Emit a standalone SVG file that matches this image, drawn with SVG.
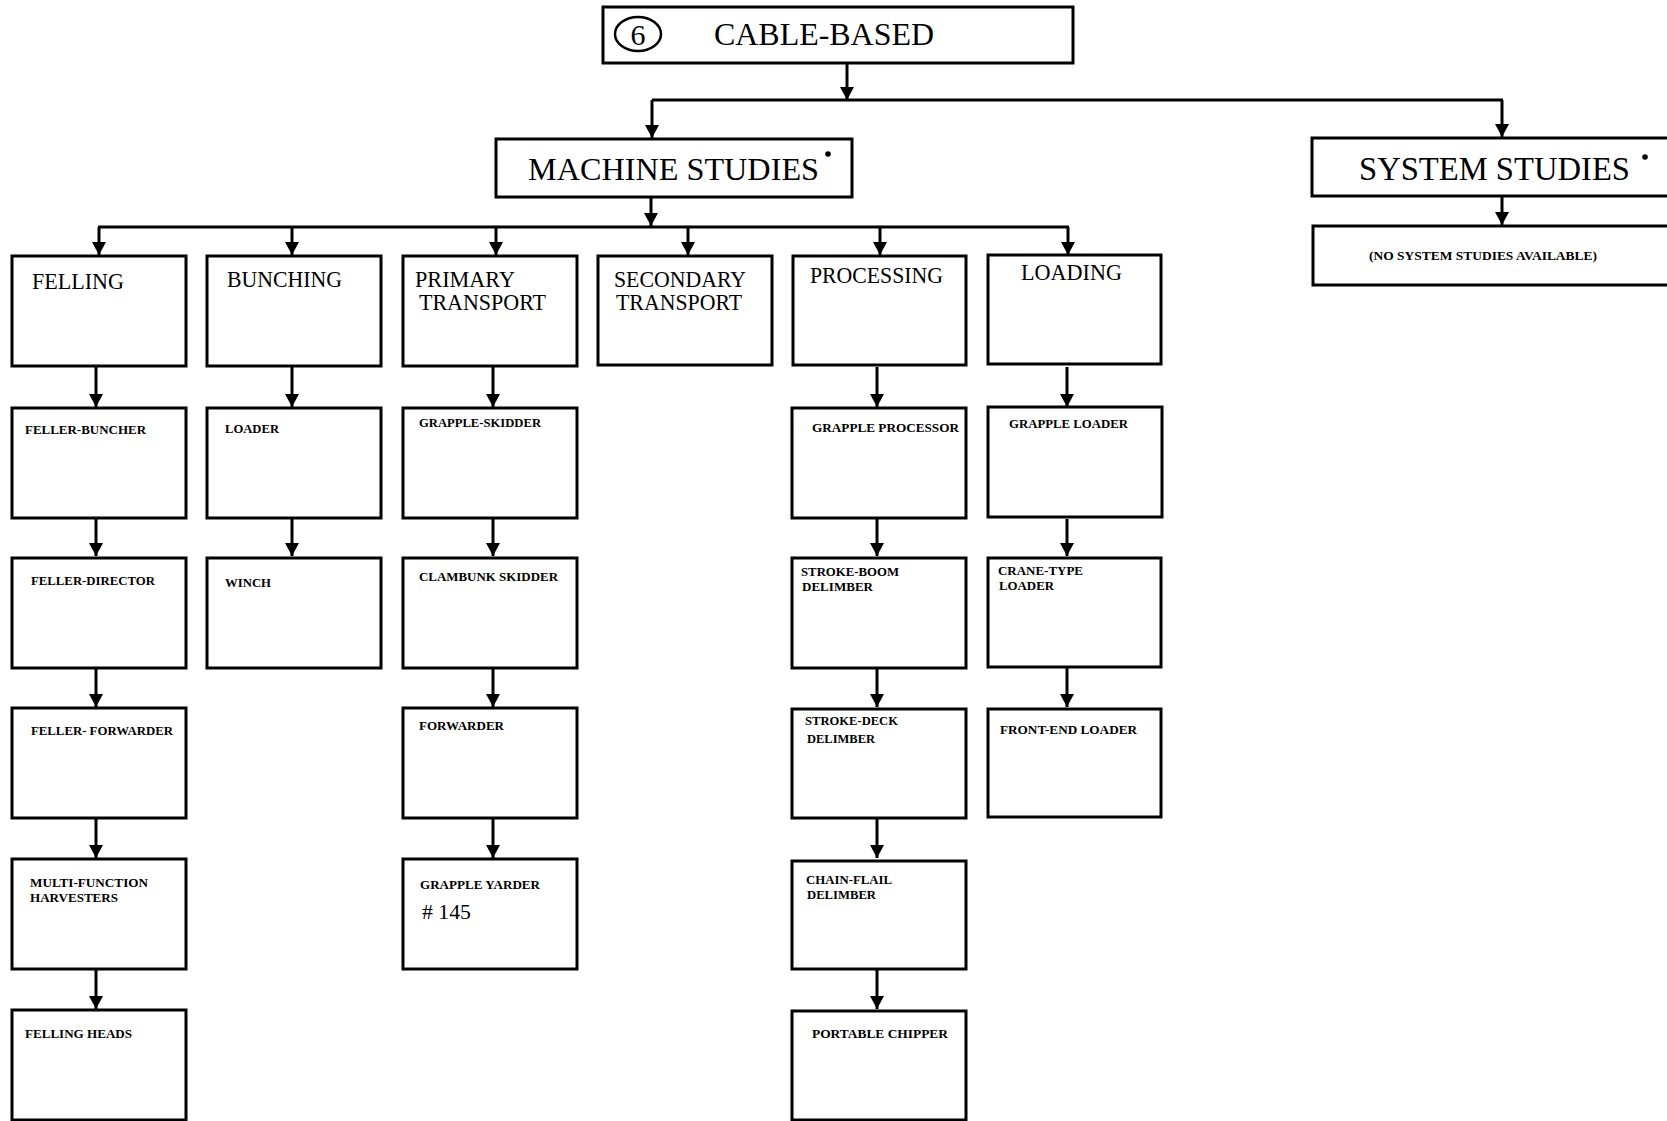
<svg xmlns="http://www.w3.org/2000/svg" width="1667" height="1121" viewBox="0 0 1667 1121">
  <style>
    .box { fill: #ffffff; stroke: #000000; stroke-width: 3; }
    .wire { fill: none; stroke: #000000; stroke-width: 3; }
    .arrow { fill: none; stroke: #000000; stroke-width: 3; marker-end: url(#head); }
    .big { font-family: "Liberation Serif", "Times New Roman", serif; fill: #000000; }
    .cat { font-family: "Liberation Serif", "Times New Roman", serif; font-size: 23px; fill: #000000; }
    .item { font-family: "Liberation Serif", "Times New Roman", serif; font-size: 13px; font-weight: bold; fill: #000000; }
  </style>
  <defs>
    <marker id="head" viewBox="0 -7 14 14" refX="13" refY="0" markerWidth="14" markerHeight="14" markerUnits="userSpaceOnUse" orient="auto">
      <path d="M0,-7 L13,0 L0,7 z" fill="#000000"/>
    </marker>
  </defs>
  <rect x="0" y="0" width="1667" height="1121" fill="#ffffff"/>

  <!-- connectors -->
  <g id="connectors">
    <line class="arrow" x1="847" y1="63" x2="847" y2="100"/>
    <line class="wire" x1="652" y1="100" x2="1503" y2="100"/>
    <line class="arrow" x1="652" y1="100" x2="652" y2="138"/>
    <line class="arrow" x1="1502" y1="100" x2="1502" y2="137"/>
    <line class="arrow" x1="1502" y1="196" x2="1502" y2="225"/>
    <line class="arrow" x1="651" y1="197" x2="651" y2="226"/>
    <line class="wire" x1="98" y1="227" x2="1069" y2="227"/>
    <line class="arrow" x1="99" y1="227" x2="99" y2="255"/>
    <line class="arrow" x1="292" y1="227" x2="292" y2="255"/>
    <line class="arrow" x1="496" y1="227" x2="496" y2="255"/>
    <line class="arrow" x1="688" y1="227" x2="688" y2="255"/>
    <line class="arrow" x1="880" y1="227" x2="880" y2="255"/>
    <line class="arrow" x1="1068" y1="227" x2="1068" y2="255"/>
    <!-- felling chain -->
    <line class="arrow" x1="96" y1="367" x2="96" y2="407"/>
    <line class="arrow" x1="96" y1="519" x2="96" y2="556"/>
    <line class="arrow" x1="96" y1="668" x2="96" y2="707"/>
    <line class="arrow" x1="96" y1="819" x2="96" y2="858"/>
    <line class="arrow" x1="96" y1="970" x2="96" y2="1009"/>
    <!-- bunching chain -->
    <line class="arrow" x1="292" y1="367" x2="292" y2="407"/>
    <line class="arrow" x1="292" y1="519" x2="292" y2="556"/>
    <!-- primary transport chain -->
    <line class="arrow" x1="493" y1="367" x2="493" y2="407"/>
    <line class="arrow" x1="493" y1="519" x2="493" y2="556"/>
    <line class="arrow" x1="493" y1="668" x2="493" y2="707"/>
    <line class="arrow" x1="493" y1="819" x2="493" y2="858"/>
    <!-- processing chain -->
    <line class="arrow" x1="877" y1="367" x2="877" y2="407"/>
    <line class="arrow" x1="877" y1="519" x2="877" y2="556"/>
    <line class="arrow" x1="877" y1="668" x2="877" y2="707"/>
    <line class="arrow" x1="877" y1="819" x2="877" y2="858"/>
    <line class="arrow" x1="877" y1="970" x2="877" y2="1009"/>
    <!-- loading chain -->
    <line class="arrow" x1="1067" y1="367" x2="1067" y2="407"/>
    <line class="arrow" x1="1067" y1="519" x2="1067" y2="556"/>
    <line class="arrow" x1="1067" y1="668" x2="1067" y2="707"/>
  </g>

  <!-- header -->
  <g id="cable-based">
    <rect class="box" x="603" y="7" width="470" height="56" stroke-width="2.5"/>
    <ellipse cx="638" cy="34" rx="23" ry="17" fill="none" stroke="#000000" stroke-width="2.5"/>
    <text class="big" x="638" y="45" font-size="30" text-anchor="middle">6</text>
    <text class="big" x="714" y="45" font-size="31" textLength="220" lengthAdjust="spacingAndGlyphs">CABLE-BASED</text>
  </g>

  <g id="machine-studies">
    <rect class="box" x="496" y="139" width="356" height="58"/>
    <text class="big" x="528" y="180" font-size="32" textLength="291" lengthAdjust="spacingAndGlyphs">MACHINE STUDIES</text>
    <circle cx="828" cy="154" r="2.8" fill="#000000"/>
  </g>

  <g id="system-studies">
    <rect class="box" x="1312" y="138" width="360" height="58"/>
    <text class="big" x="1359" y="180" font-size="33" textLength="271" lengthAdjust="spacingAndGlyphs">SYSTEM STUDIES</text>
    <circle cx="1645" cy="157" r="2.8" fill="#000000"/>
  </g>

  <g id="no-system-studies">
    <rect class="box" x="1313" y="226" width="360" height="59"/>
    <text class="item" x="1369" y="260" font-size="12" textLength="228" lengthAdjust="spacingAndGlyphs">(NO SYSTEM STUDIES AVAILABLE)</text>
  </g>

  <!-- category row -->
  <g id="felling">
    <rect class="box" x="12" y="256" width="174" height="110"/>
    <text class="cat" x="32" y="289" textLength="92" lengthAdjust="spacingAndGlyphs">FELLING</text>
  </g>
  <g id="bunching">
    <rect class="box" x="207" y="256" width="174" height="110"/>
    <text class="cat" x="227" y="287" textLength="115" lengthAdjust="spacingAndGlyphs">BUNCHING</text>
  </g>
  <g id="primary-transport">
    <rect class="box" x="403" y="256" width="174" height="110"/>
    <text class="cat" x="415" y="287" textLength="100" lengthAdjust="spacingAndGlyphs">PRIMARY</text>
    <text class="cat" x="419" y="310" textLength="127" lengthAdjust="spacingAndGlyphs">TRANSPORT</text>
  </g>
  <g id="secondary-transport">
    <rect class="box" x="598" y="256" width="174" height="109"/>
    <text class="cat" x="614" y="287" textLength="132" lengthAdjust="spacingAndGlyphs">SECONDARY</text>
    <text class="cat" x="616" y="310" textLength="126" lengthAdjust="spacingAndGlyphs">TRANSPORT</text>
  </g>
  <g id="processing">
    <rect class="box" x="793" y="256" width="173" height="109"/>
    <text class="cat" x="810" y="283" textLength="133" lengthAdjust="spacingAndGlyphs">PROCESSING</text>
  </g>
  <g id="loading">
    <rect class="box" x="988" y="255" width="173" height="109"/>
    <text class="cat" x="1021" y="280" textLength="101" lengthAdjust="spacingAndGlyphs">LOADING</text>
  </g>

  <!-- felling column -->
  <g id="feller-buncher">
    <rect class="box" x="12" y="408" width="174" height="110"/>
    <text class="item" x="25" y="434" textLength="121" lengthAdjust="spacingAndGlyphs">FELLER-BUNCHER</text>
  </g>
  <g id="feller-director">
    <rect class="box" x="12" y="558" width="174" height="110"/>
    <text class="item" x="31" y="585" textLength="124" lengthAdjust="spacingAndGlyphs">FELLER-DIRECTOR</text>
  </g>
  <g id="feller-forwarder">
    <rect class="box" x="12" y="708" width="174" height="110"/>
    <text class="item" x="31" y="735" textLength="142" lengthAdjust="spacingAndGlyphs">FELLER- FORWARDER</text>
  </g>
  <g id="multi-function-harvesters">
    <rect class="box" x="12" y="859" width="174" height="110"/>
    <text class="item" x="30" y="887" textLength="118" lengthAdjust="spacingAndGlyphs">MULTI-FUNCTION</text>
    <text class="item" x="30" y="902" textLength="88" lengthAdjust="spacingAndGlyphs">HARVESTERS</text>
  </g>
  <g id="felling-heads">
    <rect class="box" x="12" y="1010" width="174" height="110"/>
    <text class="item" x="25" y="1038" textLength="107" lengthAdjust="spacingAndGlyphs">FELLING HEADS</text>
  </g>

  <!-- bunching column -->
  <g id="loader">
    <rect class="box" x="207" y="408" width="174" height="110"/>
    <text class="item" x="225" y="433" textLength="54" lengthAdjust="spacingAndGlyphs">LOADER</text>
  </g>
  <g id="winch">
    <rect class="box" x="207" y="558" width="174" height="110"/>
    <text class="item" x="225" y="587" textLength="46" lengthAdjust="spacingAndGlyphs">WINCH</text>
  </g>

  <!-- primary transport column -->
  <g id="grapple-skidder">
    <rect class="box" x="403" y="408" width="174" height="110"/>
    <text class="item" x="419" y="427" textLength="122" lengthAdjust="spacingAndGlyphs">GRAPPLE-SKIDDER</text>
  </g>
  <g id="clambunk-skidder">
    <rect class="box" x="403" y="558" width="174" height="110"/>
    <text class="item" x="419" y="581" textLength="139" lengthAdjust="spacingAndGlyphs">CLAMBUNK SKIDDER</text>
  </g>
  <g id="forwarder">
    <rect class="box" x="403" y="708" width="174" height="110"/>
    <text class="item" x="419" y="730" textLength="85" lengthAdjust="spacingAndGlyphs">FORWARDER</text>
  </g>
  <g id="grapple-yarder">
    <rect class="box" x="403" y="859" width="174" height="110"/>
    <text class="item" x="420" y="889" textLength="120" lengthAdjust="spacingAndGlyphs">GRAPPLE YARDER</text>
    <text class="big" x="422" y="919" font-size="21" textLength="49" lengthAdjust="spacingAndGlyphs"># 145</text>
  </g>

  <!-- processing column -->
  <g id="grapple-processor">
    <rect class="box" x="792" y="408" width="174" height="110"/>
    <text class="item" x="812" y="432" textLength="147" lengthAdjust="spacingAndGlyphs">GRAPPLE  PROCESSOR</text>
  </g>
  <g id="stroke-boom-delimber">
    <rect class="box" x="792" y="558" width="174" height="110"/>
    <text class="item" x="801" y="576" textLength="98" lengthAdjust="spacingAndGlyphs">STROKE-BOOM</text>
    <text class="item" x="802" y="591" textLength="71" lengthAdjust="spacingAndGlyphs">DELIMBER</text>
  </g>
  <g id="stroke-deck-delimber">
    <rect class="box" x="792" y="709" width="174" height="109"/>
    <text class="item" x="805" y="725" textLength="93" lengthAdjust="spacingAndGlyphs">STROKE-DECK</text>
    <text class="item" x="807" y="743" textLength="68" lengthAdjust="spacingAndGlyphs">DELIMBER</text>
  </g>
  <g id="chain-flail-delimber">
    <rect class="box" x="792" y="861" width="174" height="108"/>
    <text class="item" x="806" y="884" textLength="86" lengthAdjust="spacingAndGlyphs">CHAIN-FLAIL</text>
    <text class="item" x="807" y="899" textLength="69" lengthAdjust="spacingAndGlyphs">DELIMBER</text>
  </g>
  <g id="portable-chipper">
    <rect class="box" x="792" y="1011" width="174" height="109"/>
    <text class="item" x="812" y="1038" textLength="136" lengthAdjust="spacingAndGlyphs">PORTABLE  CHIPPER</text>
  </g>

  <!-- loading column -->
  <g id="grapple-loader">
    <rect class="box" x="988" y="407" width="174" height="110"/>
    <text class="item" x="1009" y="428" textLength="119" lengthAdjust="spacingAndGlyphs">GRAPPLE LOADER</text>
  </g>
  <g id="crane-type-loader">
    <rect class="box" x="988" y="558" width="173" height="109"/>
    <text class="item" x="998" y="575" textLength="85" lengthAdjust="spacingAndGlyphs">CRANE-TYPE</text>
    <text class="item" x="999" y="590" textLength="55" lengthAdjust="spacingAndGlyphs">LOADER</text>
  </g>
  <g id="front-end-loader">
    <rect class="box" x="988" y="709" width="173" height="108"/>
    <text class="item" x="1000" y="734" textLength="137" lengthAdjust="spacingAndGlyphs">FRONT-END LOADER</text>
  </g>
</svg>
